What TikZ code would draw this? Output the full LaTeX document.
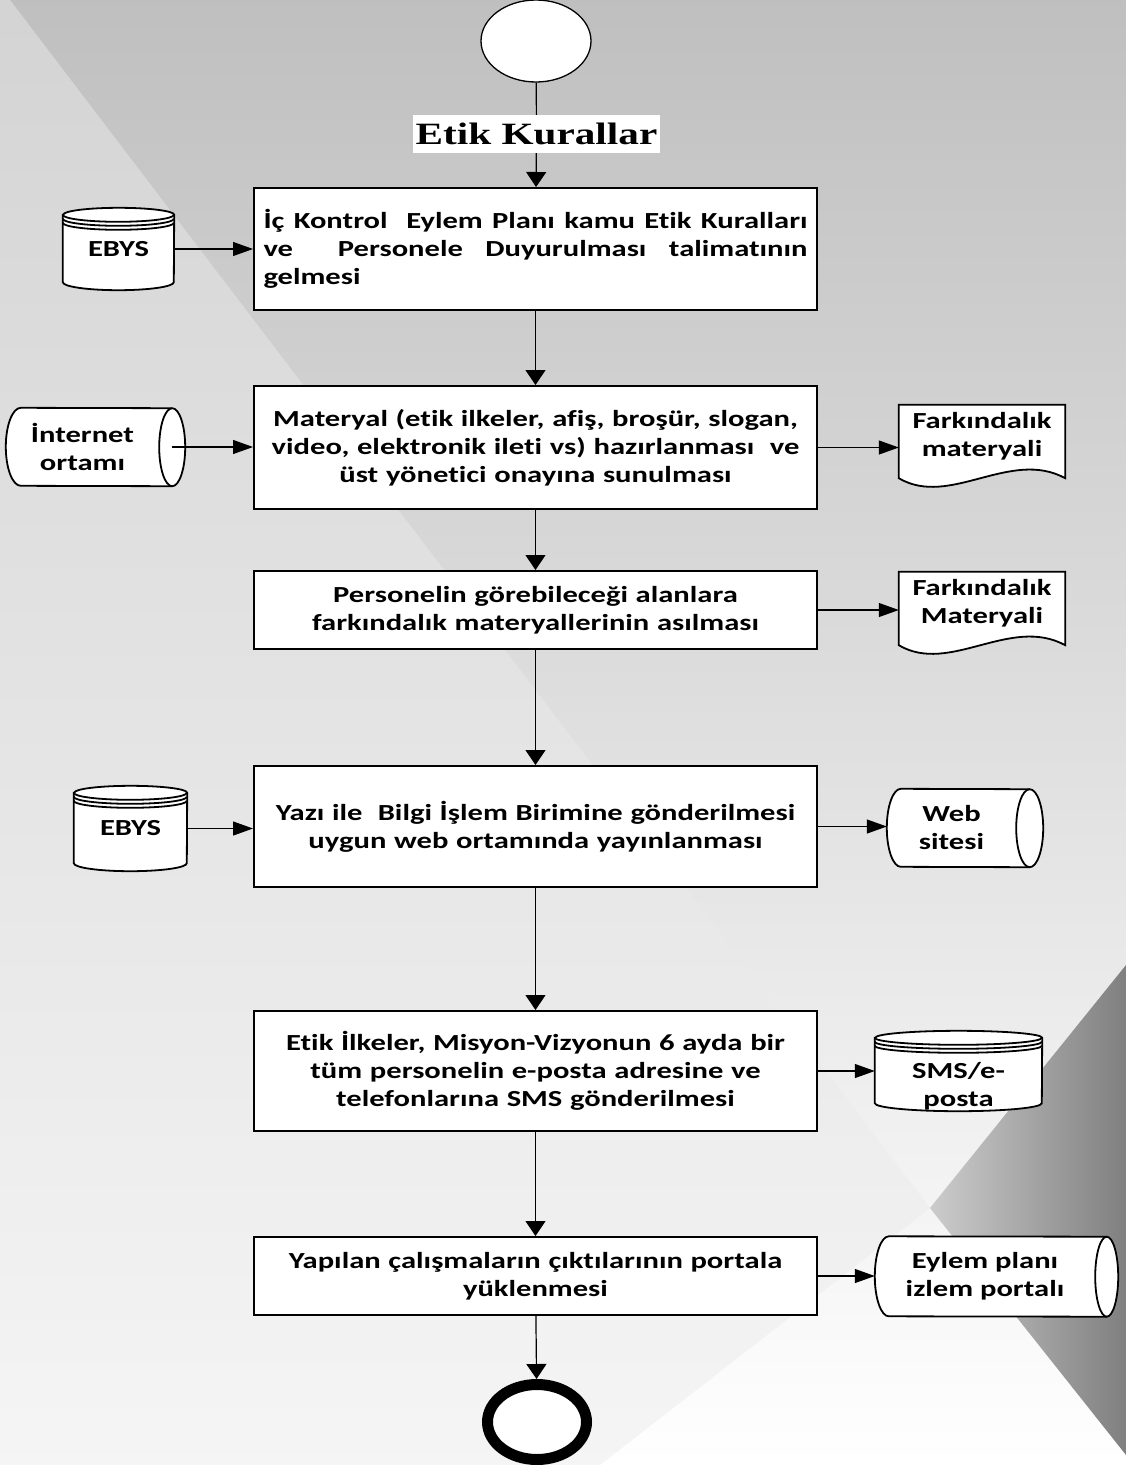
\documentclass[tikz,border=0pt]{standalone}
\usepackage{fontspec}
\setmainfont{Carlito}[FakeStretch=1.33, Ligatures=NoCommon]
\newfontfamily\titlefont{Liberation Serif}[FakeStretch=1.33]
\usetikzlibrary{arrows.meta,calc,shapes.geometric,positioning}
\pgfdeclarelayer{bg}
\pgfdeclarelayer{outline}
\pgfsetlayers{bg,outline,main}
\newcommand\boxfont{\bfseries\fontsize{23}{28}\selectfont}
\tikzset{
	proc/.style = {draw, line width=2pt, fill=white, minimum width=563pt, text width=544pt, align=center, inner sep=0pt, font=\boxfont},
	side/.style = {inner sep=0pt, align=center, font=\boxfont},
	shapeline/.style = {line width=1.8pt, fill=white},
	flow/.style = {line width=1.2pt, -{Triangle[length=15pt,width=20pt]}},
	feed/.style = {line width=1.2pt, -{Triangle[length=20pt,width=14pt]}}
}
% database drum: node, half width
\newcommand\dbpath[2]{
	\draw[shapeline] ($(#1.north west)+(0,-7)$) -- ($(#1.south west)+(0,8)$) arc[start angle=180, end angle=360, x radius=#2, y radius=8]
		-- ($(#1.north east)+(0,-7)$) arc[start angle=0, end angle=180, x radius=#2, y radius=7] -- cycle;
	\foreach \d in {7,11,15}
		\draw[line width=1.8pt] ($(#1.north west)+(0,-\d)$) arc[start angle=180, end angle=360, x radius=#2, y radius=7];
}
% document with wavy foot
\newcommand\docpath[1]{
	\draw[shapeline] (#1.north west) -- (#1.north east) -- ($(#1.south east)+(0,-11)$)
		.. controls +(-55,30) and +(51,-30) .. ($(#1.south west)+(0,-11)$) -- cycle;
}
% stored data: node, left radius, lens radius, half height
\newcommand\storepath[4]{
	\draw[shapeline] ($(#1.north west)+(#2,0)$) arc[start angle=90, end angle=270, x radius=#2, y radius=#4]
		-- ($(#1.south east)+(#3,0)$) arc[start angle=270, end angle=450, x radius=#3, y radius=#4] -- cycle;
	\draw[line width=1.8pt] ($(#1.south east)+(#3,0)$) arc[start angle=270, end angle=90, x radius=#3, y radius=#4];
}
\begin{document}
\begin{tikzpicture}[x=1pt, y=1pt]
	\useasboundingbox (0,0) rectangle (1126,-1465);
	\begin{pgfonlayer}{bg}
	\shade[top color=black!25, bottom color=white] (0,0) rectangle (1126,-1465);
	\shade[top color=black!17, bottom color=black!4] (10,0) -- (930,-1208) -- (600,-1465) -- (0,-1465) -- (0,0) -- cycle;
	\shade[left color=black!20, right color=black!50] (1126,-965) -- (930,-1208) -- (1126,-1455) -- cycle;
	\end{pgfonlayer}

	\node (start) [ellipse, draw, line width=1.3pt, fill=white, minimum width=110pt, minimum height=82pt] at (536,-41) {};
	\node (title) [fill=white, inner sep=0pt, minimum width=247pt, minimum height=38pt, font={\titlefont\bfseries\fontsize{31}{34}\selectfont}] at (536.5,-134) {Etik Kurallar};

	\node (b1) [proc, align=left, minimum height=122pt] at (535.5,-249) {\makebox[544pt][l]{İç\hfill Kontrol\hfill\hfill Eylem\hfill Planı\hfill kamu\hfill Etik\hfill Kuralları}\\ \makebox[544pt][l]{ve\hfill\hfill Personele\hfill Duyurulması\hfill talimatının}\\ gelmesi};
	\node (b2) [proc, minimum height=123pt] at (535.5,-447.5) {Materyal (etik ilkeler, afiş, broşür, slogan,\\ video, elektronik ileti vs) hazırlanması~ ve\\ üst yönetici onayına sunulması};
	\node (b3) [proc, minimum height=78pt] at (535.5,-610) {Personelin görebileceği alanlara\\ farkındalık materyallerinin asılması};
	\node (b4) [proc, minimum height=121pt] at (535.5,-826.5) {Yazı ile~ Bilgi İşlem Birimine gönderilmesi\\ uygun web ortamında yayınlanması};
	\node (b5) [proc, minimum height=120pt] at (535.5,-1071) {Etik İlkeler, Misyon-Vizyonun 6 ayda bir\\ tüm personelin e-posta adresine ve\\ telefonlarına SMS gönderilmesi};
	\node (b6) [proc, minimum height=78pt] at (535.5,-1276) {Yapılan çalışmaların çıktılarının portala\\ yüklenmesi};
	\node (stop) [ellipse, draw, line width=11pt, fill=white, minimum width=99pt, minimum height=75pt] at (537,-1422) {};

	\node (ebys1) [side, minimum width=111pt, minimum height=82pt] at (118.5,-249) {EBYS};
	\node (inet) [side, minimum width=153pt, minimum height=78pt] at (82.5,-447) {İnternet\\ ortamı};
	\node (doc1) [side, minimum width=166pt, minimum height=62pt] at (982,-436) {Farkındalık\\ materyali};
	\node (doc2) [side, minimum width=166pt, minimum height=62pt] at (982,-603) {Farkındalık\\ Materyali};
	\node (ebys2) [side, minimum width=113pt, minimum height=85pt] at (130.5,-828.5) {EBYS};
	\node (web) [side, minimum width=129pt, minimum height=78pt] at (951.5,-828) {Web\\ sitesi};
	\node (sms) [side, minimum width=167pt, minimum height=80pt] at (958.5,-1071) {};
	\node (smstxt) [side] at (958.5,-1086) {SMS/e-\\ posta};
	\node (eylem) [side, minimum width=220pt, minimum height=80pt] at (985,-1276.5) {Eylem planı\\ izlem portalı};
	\coordinate (inetlens) at ($(inet.east)+(13,0)$);

	\begin{pgfonlayer}{outline}
	\dbpath{ebys1}{55.5}
	\dbpath{ebys2}{56.5}
	\dbpath{sms}{83.5}
	\docpath{doc1}
	\docpath{doc2}
	\storepath{inet}{15}{13}{39}
	\storepath{web}{14}{13.5}{39}
	\storepath{eylem}{14}{11.5}{40}
	\end{pgfonlayer}

	\draw[line width=1.2pt] (start) -- (title);
	\draw[flow] (title) -- (b1);
	\draw[flow] (b1) -- (b2);
	\draw[flow] (b2) -- (b3);
	\draw[flow] (b3) -- (b4);
	\draw[flow] (b4) -- (b5);
	\draw[flow] (b5) -- (b6);
	\draw[flow] (b6) -- (stop);

	\draw[feed] (ebys1) -- (ebys1 -| b1.west);
	\draw[feed] (inetlens) -- (inetlens -| b2.west);
	\draw[feed] (b2.east) -- (b2.east -| doc1.west);
	\draw[feed] (b3.east) -- (b3.east -| doc2.west);
	\draw[feed] (ebys2) -- (ebys2 -| b4.west);
	\draw[feed] (b4.east) -- (b4.east -| web.west);
	\draw[feed] (b5.east) -- (b5.east -| sms.west);
	\draw[feed] (b6.east) -- (b6.east -| eylem.west);
\end{tikzpicture}
\end{document}
